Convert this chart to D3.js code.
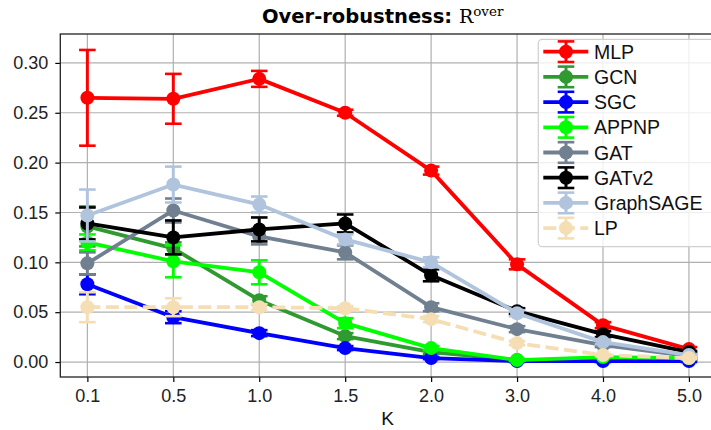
<!DOCTYPE html>
<html>
<head>
<meta charset="utf-8">
<script src="https://cdn.jsdelivr.net/npm/d3@7"></script>
<style>
  html, body { margin: 0; padding: 0; background: #fff; }
  svg { display: block; }
</style>
</head>
<body>
<svg id="chart" width="711" height="430"></svg>
<script>
// K values on the x axis (categorical, evenly spaced)
const kLabels = ["0.1", "0.5", "1.0", "1.5", "2.0", "3.0", "4.0", "5.0"];
const yTicks = [0.00, 0.05, 0.10, 0.15, 0.20, 0.25, 0.30];

// Mean over-robustness and its spread per model
const modelNames = ["MLP", "GCN", "SGC", "APPNP", "GAT", "GATv2", "GraphSAGE", "LP"];
const mlp      = [0.265, 0.264, 0.284, 0.250, 0.192, 0.098, 0.037, 0.013];
const mlpErr   = [0.048, 0.025, 0.008, 0.003, 0.004, 0.005, 0.003, 0.002];
const gcn      = [0.136, 0.114, 0.062, 0.026, 0.010, 0.002, 0.003, 0.003];
const gcnErr   = [0.020, 0.006, 0.004, 0.003, 0.002, 0.001, 0.001, 0.001];
const sgc      = [0.078, 0.045, 0.029, 0.014, 0.004, 0.001, 0.001, 0.001];
const sgcErr   = [0.010, 0.006, 0.003, 0.002, 0.001, 0.001, 0.001, 0.001];
const appnp    = [0.120, 0.101, 0.090, 0.039, 0.014, 0.002, 0.005, 0.004];
const appnpErr = [0.008, 0.016, 0.012, 0.005, 0.002, 0.001, 0.001, 0.001];
const gat      = [0.099, 0.152, 0.126, 0.110, 0.055, 0.033, 0.017, 0.006];
const gatErr   = [0.011, 0.012, 0.008, 0.007, 0.004, 0.003, 0.002, 0.001];
const gatv2    = [0.139, 0.125, 0.133, 0.139, 0.087, 0.051, 0.028, 0.010];
const gatv2Err = [0.016, 0.017, 0.012, 0.009, 0.006, 0.003, 0.003, 0.001];
const sage     = [0.147, 0.178, 0.158, 0.123, 0.100, 0.049, 0.020, 0.007];
const sageErr  = [0.026, 0.018, 0.008, 0.005, 0.005, 0.003, 0.002, 0.001];
const lp       = [0.055, 0.055, 0.055, 0.054, 0.043, 0.019, 0.007, 0.004];
const lpErr    = [0.015, 0.009, 0.003, 0.002, 0.003, 0.002, 0.001, 0.001];

const colors = ["#ff0000", "#2f9a2f", "#0000ff", "#00ff00", "#708090", "#000000", "#b0c4de", "#f5deb3"];
const dashes = [null, null, null, null, null, null, null, "13,5.5"];

const series = [
  [mlp, mlpErr], [gcn, gcnErr], [sgc, sgcErr], [appnp, appnpErr],
  [gat, gatErr], [gatv2, gatv2Err], [sage, sageErr], [lp, lpErr]
].map((d, i) => ({ name: modelNames[i], values: d[0], errs: d[1], color: colors[i], dash: dashes[i] }));

const svg = d3.select("#chart");
const W = 711, H = 430;
svg.append("rect").attr("width", W).attr("height", H).attr("fill", "#fff");

const plotL = 60.3, plotR = 716, plotT = 34, plotB = 377;
const FONT = "'Liberation Sans', Arial, Helvetica, sans-serif";

const x = d3.scaleLinear().domain([-0.315, kLabels.length - 1 + 0.315]).range([plotL, plotR]);
const y = d3.scaleLinear().domain([-0.015, 0.329]).range([plotB, plotT]);

// grid
const grid = svg.append("g");
grid.selectAll(".gx").data(kLabels).join("line")
  .attr("x1", (d, i) => x(i)).attr("x2", (d, i) => x(i))
  .attr("y1", plotT).attr("y2", plotB)
  .attr("stroke", "#b0b0b0").attr("stroke-width", 1.2);
grid.selectAll(".gy").data(yTicks).join("line")
  .attr("x1", plotL).attr("x2", plotR)
  .attr("y1", d => y(d)).attr("y2", d => y(d))
  .attr("stroke", "#b0b0b0").attr("stroke-width", 1.2);

// series: error bars, lines, markers
const line = d3.line().x((d, i) => x(i)).y(d => y(d));
const capHalf = 8.3;
series.forEach(s => {
  const g = svg.append("g");
  g.selectAll(".eb").data(s.values).join("line")
    .attr("x1", (d, i) => x(i)).attr("x2", (d, i) => x(i))
    .attr("y1", (d, i) => y(d - s.errs[i])).attr("y2", (d, i) => y(d + s.errs[i]))
    .attr("stroke", s.color).attr("stroke-width", 3);
  ["lo", "hi"].forEach(side => {
    g.selectAll(".cap" + side).data(s.values).join("line")
      .attr("x1", (d, i) => x(i) - capHalf).attr("x2", (d, i) => x(i) + capHalf)
      .attr("y1", (d, i) => y(side === "lo" ? d - s.errs[i] : d + s.errs[i]))
      .attr("y2", (d, i) => y(side === "lo" ? d - s.errs[i] : d + s.errs[i]))
      .attr("stroke", s.color).attr("stroke-width", 2.6);
  });
  g.append("path").datum(s.values)
    .attr("d", line).attr("fill", "none")
    .attr("stroke", s.color).attr("stroke-width", 3.8)
    .attr("stroke-linejoin", "round")
    .attr("stroke-dasharray", s.dash);
  g.selectAll("circle").data(s.values).join("circle")
    .attr("cx", (d, i) => x(i)).attr("cy", d => y(d)).attr("r", 7)
    .attr("fill", s.color);
});

// axes
const xAxis = d3.axisBottom(x).tickValues(d3.range(kLabels.length))
  .tickFormat(i => kLabels[i]).tickSize(5).tickPadding(7);
const yAxis = d3.axisLeft(y).tickValues(yTicks)
  .tickFormat(d3.format(".2f")).tickSize(5).tickPadding(7);

const gx = svg.append("g").attr("transform", `translate(0,${plotB})`).call(xAxis);
const gy = svg.append("g").attr("transform", `translate(${plotL},0)`).call(yAxis);
[gx, gy].forEach(g => {
  g.select(".domain").remove();
  g.selectAll(".tick line").attr("stroke", "#000").attr("stroke-width", 1.2);
  g.selectAll(".tick text").attr("fill", "#222").style("font-family", FONT).style("font-size", "18px");
});

// frame
svg.append("rect").attr("x", plotL).attr("y", plotT)
  .attr("width", plotR - plotL).attr("height", plotB - plotT)
  .attr("fill", "none").attr("stroke", "#222").attr("stroke-width", 1.3);

// axis label
svg.append("text").attr("x", 387.5).attr("y", 425)
  .attr("text-anchor", "middle").style("font-family", FONT).style("font-size", "19px")
  .attr("fill", "#111").text("K");

// title
const title = svg.append("text").attr("x", 262).attr("y", 23).attr("fill", "#000");
title.append("tspan").style("font-family", "'DejaVu Sans', sans-serif").style("font-weight", "bold").style("font-size", "19.5px")
  .text("Over-robustness: ");
title.append("tspan").style("font-family", "'DejaVu Serif', 'Liberation Serif', serif").style("font-size", "19px")
  .text("R");
title.append("tspan").attr("dy", -7).style("font-family", "'DejaVu Serif', 'Liberation Serif', serif").style("font-size", "13.5px")
  .text("over");

// legend
const lg = svg.append("g");
lg.append("rect").attr("x", 538.3).attr("y", 39.3).attr("width", 190).attr("height", 207.4)
  .attr("rx", 4).attr("fill", "#fff").attr("fill-opacity", 0.8)
  .attr("stroke", "#d0d0d0").attr("stroke-width", 1.2);
series.forEach((s, i) => {
  const cy = 51.7 + i * 25.2;
  const row = lg.append("g");
  row.append("line").attr("x1", 566).attr("x2", 566).attr("y1", cy - 10.3).attr("y2", cy + 10.3)
    .attr("stroke", s.color).attr("stroke-width", 3);
  [-10.3, 10.3].forEach(o => row.append("line")
    .attr("x1", 566 - capHalf).attr("x2", 566 + capHalf).attr("y1", cy + o).attr("y2", cy + o)
    .attr("stroke", s.color).attr("stroke-width", 2.6));
  row.append("line").attr("x1", 543.3).attr("x2", 588.3).attr("y1", cy).attr("y2", cy)
    .attr("stroke", s.color).attr("stroke-width", 3.8).attr("stroke-dasharray", s.dash);
  row.append("circle").attr("cx", 566).attr("cy", cy).attr("r", 7).attr("fill", s.color);
  row.append("text").attr("x", 594).attr("y", cy).attr("dy", "0.36em")
    .style("font-family", FONT).style("font-size", "19.5px").attr("fill", "#111").text(s.name);
});
</script>
</body>
</html>
